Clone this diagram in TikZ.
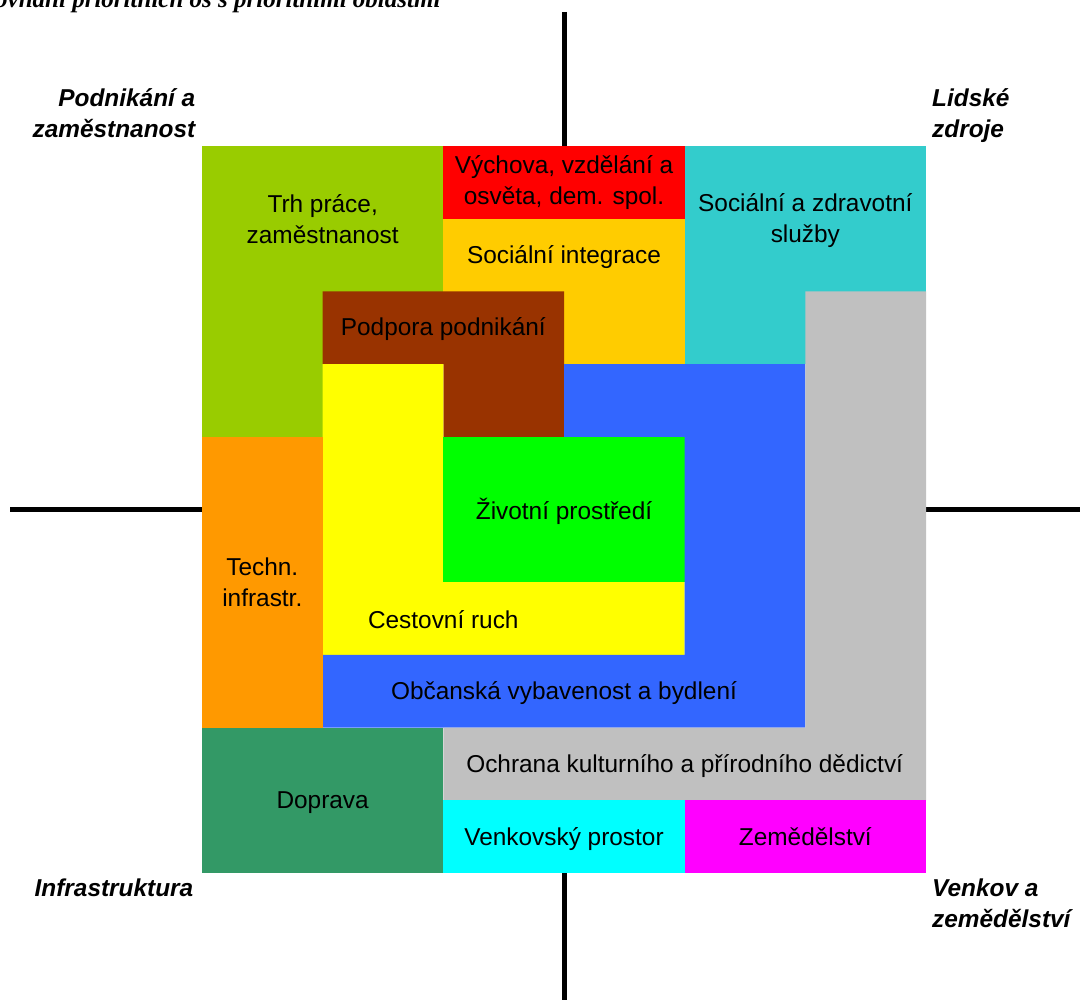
\documentclass[tikz,border=0pt]{standalone}
\usepackage{fontspec}
\setmainfont{Liberation Sans}
\newfontfamily\titlefont{Liberation Serif}
\definecolor{cTrh}{HTML}{99CC00}
\definecolor{cVych}{HTML}{FF0000}
\definecolor{cInteg}{HTML}{FFCC00}
\definecolor{cZdrav}{HTML}{33CCCC}
\definecolor{cPodp}{HTML}{993300}
\definecolor{cCest}{HTML}{FFFF00}
\definecolor{cZiv}{HTML}{00FF00}
\definecolor{cObc}{HTML}{3366FF}
\definecolor{cOchr}{HTML}{C0C0C0}
\definecolor{cTech}{HTML}{FF9900}
\definecolor{cDopr}{HTML}{339966}
\definecolor{cVenk}{HTML}{00FFFF}
\definecolor{cZem}{HTML}{FF00FF}
\begin{document}
\begin{tikzpicture}[x=1pt,y=-1pt,
  label/.style={font=\fontsize{24.4}{31}\selectfont, align=center, inner sep=0pt, text=black},
  corner/.style={font=\fontsize{24.4}{31}\selectfont\bfseries\itshape, inner sep=0pt, text=black},
  axisline/.style={line width=5pt, black}]
\useasboundingbox (0,0) rectangle (1080,1000);
% axes (only the parts outside the coloured square)
\coordinate (axT) at (564,12);
\coordinate (axTi) at (564,146);
\coordinate (axBi) at (564,873);
\coordinate (axB) at (564,1000);
\coordinate (axL) at (10,509.5);
\coordinate (axLi) at (202,509.5);
\coordinate (axRi) at (926,509.5);
\coordinate (axR) at (1080,509.5);
\draw[axisline] (axT) -- (axTi);
\draw[axisline] (axBi) -- (axB);
\draw[axisline] (axL) -- (axLi);
\draw[axisline] (axRi) -- (axR);
% areas
\fill[cTrh] (202,146) rectangle (443.33,436.8);
\fill[cVych] (443.33,146) rectangle (684.67,218.7);
\fill[cInteg] (443.33,218.7) rectangle (684.67,364.1);
\fill[cZdrav] (684.67,146) rectangle (926,364.1);
\fill[cPodp] (322.67,291.4) -- (564,291.4) -- (564,436.8) -- (443.33,436.8) -- (443.33,364.1) -- (322.67,364.1) -- cycle;
\fill[cCest] (322.67,364.1) -- (443.33,364.1) -- (443.33,582.2) -- (684.67,582.2) -- (684.67,654.9) -- (322.67,654.9) -- cycle;
\fill[cZiv] (443.33,436.8) rectangle (684.67,582.2);
\fill[cObc] (564,364.1) -- (805.33,364.1) -- (805.33,727.6) -- (322.67,727.6) -- (322.67,654.9) -- (684.67,654.9) -- (684.67,436.8) -- (564,436.8) -- cycle;
\fill[cOchr] (805.33,291.4) -- (926,291.4) -- (926,800.3) -- (443.33,800.3) -- (443.33,727.6) -- (805.33,727.6) -- cycle;
\fill[cTech] (202,436.8) rectangle (322.67,727.6);
\fill[cDopr] (202,727.6) rectangle (443.33,873);
\fill[cVenk] (443.33,800.3) rectangle (684.67,873);
\fill[cZem] (684.67,800.3) rectangle (926,873);
% labels
\node[label] (trh) at (322.67,218.7) {Trh práce,\\zaměstnanost};
\node[label] (vych) at (564,182.3) {Výchova, vzdělání a\\osvěta, dem. spol.};
\node[label] (integ) at (564,257) {Sociální integrace};
\node[label] (zdrav) at (805.33,220.7) {Sociální a zdravotní\\služby};
\node[label] (podp) at (443.33,329) {Podpora podnikání};
\node[label] (ziv) at (564,511) {Životní prostředí};
\node[label] (tech) at (262.3,582.2) {Techn.\\infrastr.};
\node[label] (cest) at (443.33,619.5) {Cestovní ruch};
\node[label] (obc) at (564,693.2) {Občanská vybavenost a bydlení};
\node[label] (ochr) at (684.67,766) {Ochrana kulturního a přírodního dědictví};
\node[label] (dopr) at (322.67,802.3) {Doprava};
\node[label] (venk) at (564,839) {Venkovský prostor};
\node[label] (zem) at (805.33,837) {Zemědělství};
% corner labels
\node[corner, anchor=east, align=right] (podn) at (195.5,113) {Podnikání a\\zaměstnanost};
\node[corner, anchor=west, align=left] (lids) at (932,116) {Lidské\\zdroje};
\node[corner, anchor=east, align=right] (infra) at (193.5,888) {Infrastruktura};
\node[corner, anchor=west, align=left] (venkz) at (932,903) {Venkov a\\zemědělství};
% title (clipped by the page edge, as in the reference)
\node[anchor=base west, inner sep=0pt, font=\titlefont\fontsize{25}{30}\selectfont\bfseries\itshape] (title) at (-28.6,7.5) {Srovnání prioritních os s prioritními oblastmi};
\end{tikzpicture}
\end{document}
